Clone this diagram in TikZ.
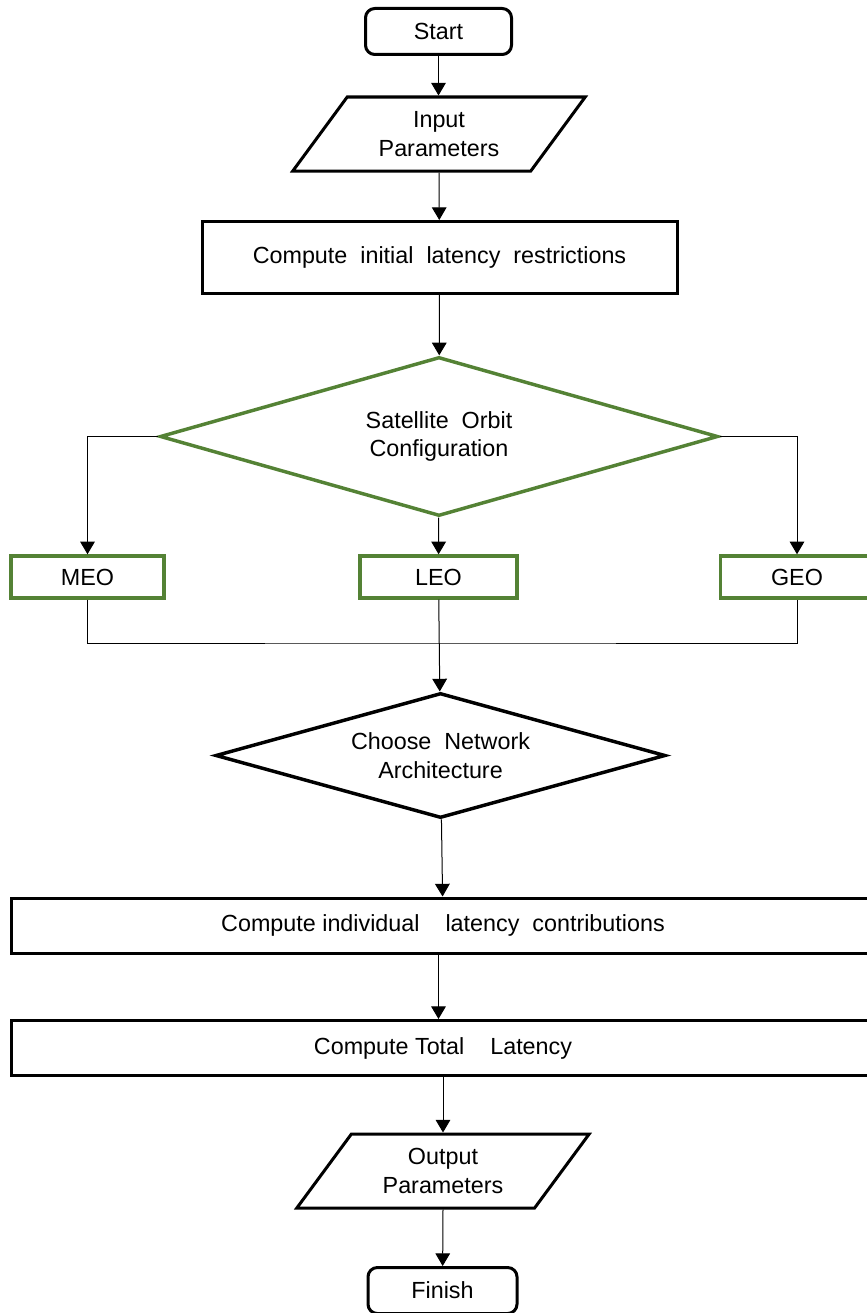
\documentclass[tikz,border=0pt]{standalone}
\usepackage{fontspec}
\setmainfont{Liberation Sans}
\usepackage{tikz}
\usetikzlibrary{arrows.meta,shapes.geometric}

\definecolor{orbitgreen}{RGB}{84,130,53}

\begin{document}
\begin{tikzpicture}[x=0.75pt, y=-0.75pt,
  every node/.style={font=\fontsize{17.5}{21.5}\selectfont, align=center, inner sep=0pt},
  terminal/.style={draw, line width=2.25pt, rounded corners=7pt, minimum width=146*\px, minimum height=46*\px},
  io/.style={draw, line width=2.25pt, trapezium, trapezium left angle=51.5, trapezium right angle=128.5,
    trapezium stretches, minimum width=293*\px, minimum height=74*\px},
  process/.style={draw, line width=2.25pt, minimum height=55*\px},
  choice/.style={draw, line width=2.6pt, diamond},
  orbitbox/.style={draw=orbitgreen, line width=2.6pt, minimum width=153*\px, minimum height=42*\px},
  flow/.style={line width=0.75pt, -{Triangle[length=9.5pt, width=11pt]}},
  link/.style={line width=0.75pt}]

\def\px{0.75pt}

\path [use as bounding box] (0,0) rectangle (867,1313);

% SHAPES
\node [terminal] (start) at (438.5,31.5) {Start};
\node [io] (input) at (439,134) {Input\\Parameters};
\node [process, minimum width=475*\px, minimum height=72*\px] (init) at (439.5,257.5)
  {Compute\ \ initial\ \ latency\ \ restrictions};
\node [choice, draw=orbitgreen, minimum width=558*\px, minimum height=159*\px, aspect=3.5] (orbit) at (439,436.5)
  {Satellite\ \ Orbit\\Configuration};
\node [orbitbox] (meo) at (87.5,577) {MEO};
\node [orbitbox, minimum width=157*\px] (leo) at (438.5,577) {LEO};
\node [orbitbox] (geo) at (797,577) {GEO};
\coordinate (join) at (438.5,643);
\node [choice, minimum width=450*\px, minimum height=125*\px, aspect=3.6] (arch) at (440.5,755.5)
  {Choose\ \ Network\\Architecture};
\node [process, minimum width=864*\px] (indiv) at (443,925.5)
  {Compute individual\ \ \ \ latency\ \ contributions};
\node [process, minimum width=864*\px] (total) at (443,1048)
  {Compute Total\ \ \ \ Latency};
\node [io] (output) at (443,1171) {Output\\Parameters};
\node [terminal, minimum width=149*\px] (finish) at (442.5,1290.5) {Finish};

% CONNECTORS
\draw [flow] (start) -- (start |- input.north);
\draw [flow] (input.center |- input.south) -- (init);
\draw [flow] (init) -- (orbit);
\draw [flow] (orbit.west) -| (meo);
\draw [flow] (orbit) -- (leo);
\draw [flow] (orbit.east) -| (geo);
\draw [link] (meo) |- (join) -| (geo);
\draw [flow] (leo) -- (arch);
\draw [flow] (arch) -- (indiv);
\draw [flow] (indiv.south -| leo) -- (total.north -| leo);
\draw [flow] (total.south -| output.center) -- (output.center |- output.north);
\draw [flow] (output.center |- output.south) -- (finish);

\end{tikzpicture}
\end{document}
